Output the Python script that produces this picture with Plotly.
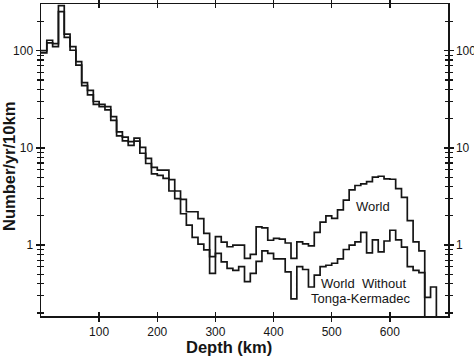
import plotly.graph_objects as go

# ---- data (events per year per 10 km depth bin, bins start at 0 km) ----
bin_width_km = 10
world = [100, 128, 118, 290, 148, 110, 77, 47, 39, 30,
         28, 26.5, 21, 14.6, 12.9, 11.6, 12.6, 10.1, 7.8, 6.3,
         5.9, 5.9, 4.7, 3.6, 2.95, 2.2, 2.2, 1.87, 1.32, 0.76,
         1.22, 1.07, 0.96, 1.0, 1.0, 0.73, 0.8, 1.54, 1.5, 1.12,
         1.17, 1.15, 1.05, 0.73, 1.08, 1.03, 0.98, 1.35, 1.72, 2.0,
         1.88, 2.3, 2.9, 3.7, 4.1, 4.25, 4.5, 5.0, 5.1, 4.8,
         4.75, 3.8, 3.1, 1.78, 1.08, 0.87, 0.29, 0.37]
world_without_tonga = [95, 120, 110, 252, 137, 101, 71, 43.6, 35, 28,
                       26.5, 24.6, 19.2, 13.3, 11.8, 10.6, 11.7, 8.8, 6.9, 5.4,
                       5.2, 4.85, 3.6, 3.0, 2.1, 1.6, 1.2, 1.02, 0.89, 0.51,
                       0.82, 0.67, 0.575, 0.55, 0.6, 0.42, 0.51, 0.68, 0.87, 0.82,
                       0.72, 0.72, 0.53, 0.28, 0.6, 0.56, 0.37, 0.49, 0.6, 0.62,
                       0.65, 0.72, 0.9, 1.0, 1.08, 1.35, 0.83, 1.13, 0.85, 1.1,
                       1.42, 1.13, 0.95, 0.6, 0.55, 0.52, 0, 0]
x_tick_vals = [100, 200, 300, 400, 500, 600]
y_major_vals = [1, 10, 100]
y_major_text = ["1", "10", "100"]
y_minor_vals = [0.2, 0.3, 0.4, 0.5, 0.6, 0.7, 0.8, 0.9,
                2, 3, 4, 5, 6, 7, 8, 9,
                20, 30, 40, 50, 60, 70, 80, 90, 200]

X_RANGE = [0, 700]
Y_RANGE_LOG = [-0.73, 2.48]
FLOOR = 1e-3  # zero counts drawn below the axis on the log scale
INK = "#151515"


def step_xy(values):
    xs, ys = [], []
    for i, v in enumerate(values):
        xs.append(i * bin_width_km)
        ys.append(v if v > 0 else FLOOR)
    xs.append(len(values) * bin_width_km)
    ys.append(ys[-1])
    xs.append(len(values) * bin_width_km)
    ys.append(FLOOR)
    return xs, ys


fig = go.Figure()
for vals, name in [(world, "World"), (world_without_tonga, "World Without Tonga-Kermadec")]:
    xs, ys = step_xy(vals)
    fig.add_trace(go.Scatter(x=xs, y=ys, mode="lines", name=name,
                             line=dict(color=INK, width=1.7, shape="hv"),
                             showlegend=False, hoverinfo="skip"))

tickfont = dict(family="Liberation Sans, Arial, sans-serif", size=12, color=INK)
common_x = dict(range=X_RANGE, tickmode="array", tickvals=x_tick_vals,
                showgrid=False, zeroline=False, showline=True, automargin=False,
                linecolor=INK, linewidth=1.5, tickcolor=INK, tickwidth=1.3)
common_y = dict(type="log", range=Y_RANGE_LOG, tickmode="array",
                tickvals=y_major_vals, ticktext=y_major_text, automargin=False,
                showgrid=False, zeroline=False, showline=True,
                linecolor=INK, linewidth=1.5, tickcolor=INK, tickwidth=1.3)
minor_out = dict(tickmode="array", tickvals=y_minor_vals, ticks="outside",
                 ticklen=3, tickwidth=1.2, tickcolor=INK, showgrid=False)
minor_in = dict(tickmode="array", tickvals=y_minor_vals, ticks="inside",
                ticklen=3, tickwidth=1.2, tickcolor=INK, showgrid=False)

fig.update_layout(
    width=474, height=356,
    margin=dict(l=41, r=26, t=4, b=40, autoexpand=False),
    paper_bgcolor="white", plot_bgcolor="white",
    xaxis=dict(**common_x, ticks="outside", ticklen=4, mirror="allticks",
               showticklabels=True, tickfont=tickfont),
    xaxis2=dict(**common_x, overlaying="x", anchor="y", side="bottom",
                ticks="inside", ticklen=4, mirror="allticks",
                showticklabels=False),
    yaxis=dict(**common_y, ticks="outside", ticklen=4, side="left",
               minor=minor_out, showticklabels=True, tickfont=tickfont),
    yaxis2=dict(**common_y, overlaying="y", anchor="x", side="left",
                ticks="inside", ticklen=4, mirror="allticks",
                minor=minor_in, showticklabels=False),
    yaxis3=dict(**common_y, overlaying="y", anchor="x", side="right",
                ticks="outside", ticklen=4, minor=minor_out,
                showticklabels=True, tickfont=tickfont),
)

# invisible helpers so overlay axes are drawn
fig.add_trace(go.Scatter(x=[None], y=[None], xaxis="x2", yaxis="y2",
                         showlegend=False, hoverinfo="skip"))
fig.add_trace(go.Scatter(x=[None], y=[None], xaxis="x", yaxis="y3",
                         showlegend=False, hoverinfo="skip"))

titlefont = dict(family="Liberation Sans, Arial, sans-serif", size=16.5, color=INK)
textfont = dict(family="Liberation Sans, Arial, sans-serif", size=13, color=INK)


def px_x(p):
    return (p - 41) / 407.0


def px_y(p):
    return (316 - p) / 312.0


def label(text, px, py, font, **kw):
    fig.add_annotation(text=text, xref="paper", yref="paper",
                       x=px_x(px), y=px_y(py), showarrow=False, font=font,
                       xanchor="center", yanchor="middle", **kw)


label("<b>Depth (km)</b>", 229, 347, titlefont)
label("<b>Number/yr/10km</b>", 9, 167, titlefont, textangle=-90)
label("World", 373, 206.5, textfont)
label("World\u00a0\u00a0Without", 363, 283, textfont)
label("Tonga-Kermadec", 360, 298, textfont)

fig.write_html(
    "out.html",
    config={"displayModeBar": False, "staticPlot": True},
    post_script="document.body.style.margin='0';document.body.style.padding='0';"
                "document.body.style.overflow='hidden';",
)
